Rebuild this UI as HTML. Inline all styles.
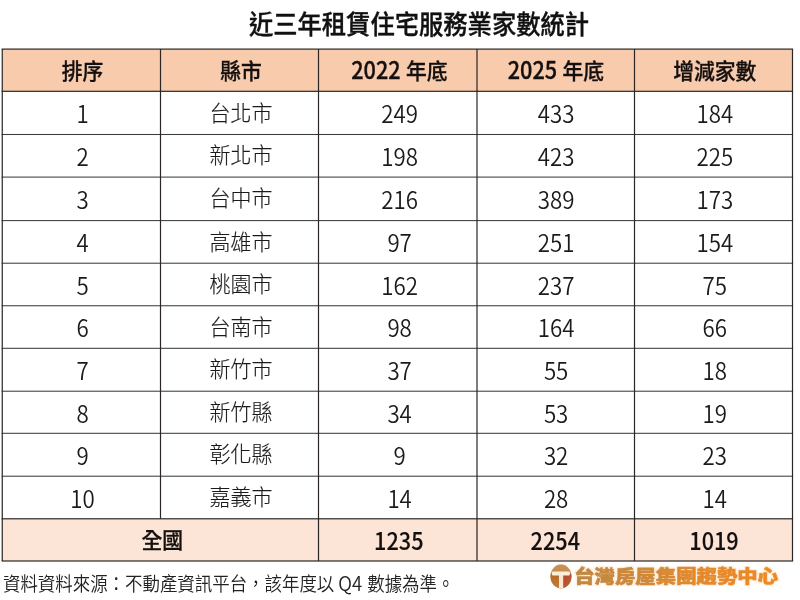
<!DOCTYPE html>
<html lang="zh-Hant">
<head>
<meta charset="utf-8">
<title>近三年租賃住宅服務業家數統計</title>
<style>
html,body{margin:0;padding:0;}
body{width:800px;height:600px;position:relative;overflow:hidden;background:#fff;color:#111;
 font-family:"Noto Sans CJK TC","Noto Sans CJK JP","Liberation Sans",sans-serif;}
.abs{position:absolute;}
.cell{position:absolute;z-index:1;display:flex;align-items:center;justify-content:center;white-space:pre;}
.cell span{display:inline-block;transform:scaleY(1.08);transform-origin:50% 50%;}
.h{font-weight:500;-webkit-text-stroke:0.3px #141010;font-size:20.8px;color:#141010;}
.b{font-weight:300;-webkit-text-stroke:0.15px #1a1a1a;font-size:21.0px;color:#1a1a1a;}
.t{font-weight:500;-webkit-text-stroke:0.3px #141010;font-size:20.8px;color:#141010;}
.cell span.c{transform:scaleY(1.05);position:relative;top:-1px;}
.cell span.d{transform:scaleY(1.07);position:relative;top:-0.6px;}
.b span.c{transform:scaleY(1.05);top:-1.4px;}
.h span.c{top:-0.2px;}
.b span.d{font-size:22.3px;font-weight:350;-webkit-text-stroke:0;}
.h span.d,.t span.d{font-size:21.7px;transform:scaleY(1.14);top:-1.6px;left:-0.5px;}
.t span.d{top:-0.7px;left:-0.8px;-webkit-text-stroke:0.1px #141010;}
.title{position:absolute;left:19px;width:800px;top:-0.7px;height:48px;text-align:center;font-weight:500;-webkit-text-stroke:0.35px #111;font-size:24.3px;line-height:48px;color:#111;white-space:nowrap;}
.title span{display:inline-block;transform:scaleY(1.08);}
.foot{position:absolute;left:3px;top:567.3px;height:30px;line-height:30px;font-size:17.46px;font-weight:350;color:#222;white-space:pre;}
.foot>span{display:inline-block;transform:scaleY(1.08);}
.foot .q{font-size:18.6px;margin-right:1.2px;}
</style>
</head>
<body>

<svg class="abs" style="left:0;top:0;z-index:0" width="800" height="600" viewBox="0 0 800 600">
<rect x="2.25" y="49.1" width="790.25" height="42.2" fill="#f8cbad"/>
<rect x="2.25" y="518.8" width="790.25" height="42.2" fill="#fce4d6"/>
<rect x="1.65" y="48.5" width="791.45" height="1.2" fill="#2b2624"/>
<rect x="1.65" y="90.7" width="791.45" height="1.2" fill="#2b2624"/>
<rect x="1.65" y="133.97" width="791.45" height="1.05" fill="#3c3c3c"/>
<rect x="1.65" y="176.57" width="791.45" height="1.05" fill="#3c3c3c"/>
<rect x="1.65" y="220.07" width="791.45" height="1.05" fill="#3c3c3c"/>
<rect x="1.65" y="262.68" width="791.45" height="1.05" fill="#3c3c3c"/>
<rect x="1.65" y="305.23" width="791.45" height="1.05" fill="#3c3c3c"/>
<rect x="1.65" y="347.78" width="791.45" height="1.05" fill="#3c3c3c"/>
<rect x="1.65" y="390.68" width="791.45" height="1.05" fill="#3c3c3c"/>
<rect x="1.65" y="432.78" width="791.45" height="1.05" fill="#3c3c3c"/>
<rect x="1.65" y="475.68" width="791.45" height="1.05" fill="#3c3c3c"/>
<rect x="1.65" y="518.2" width="791.45" height="1.2" fill="#2b2624"/>
<rect x="1.65" y="560.4" width="791.45" height="1.2" fill="#2b2624"/>
<rect x="1.65" y="49.1" width="1.2" height="511.9" fill="#2b2624"/>
<rect x="159.9" y="49.1" width="1.2" height="469.7" fill="#2b2624"/>
<rect x="317.9" y="49.1" width="1.2" height="511.9" fill="#2b2624"/>
<rect x="476.4" y="49.1" width="1.2" height="511.9" fill="#2b2624"/>
<rect x="633.9" y="49.1" width="1.2" height="511.9" fill="#2b2624"/>
<rect x="791.9" y="49.1" width="1.2" height="511.9" fill="#2b2624"/>
</svg>
<div class="title"><span>近三年租賃住宅服務業家數統計</span></div>
<div class="cell h" style="left:3.5px;top:49.1px;width:158px;height:42.2px"><span class="c">排序</span></div>
<div class="cell h" style="left:162px;top:49.1px;width:158px;height:42.2px"><span class="c">縣市</span></div>
<div class="cell h" style="left:320.5px;top:49.1px;width:158.25px;height:42.2px"><span class="d">2022</span><span class="c"> 年底</span></div>
<div class="cell h" style="left:477.25px;top:49.1px;width:157.75px;height:42.2px"><span class="d">2025</span><span class="c"> 年底</span></div>
<div class="cell h" style="left:635.8px;top:49.1px;width:158px;height:42.2px"><span class="c">增減家數</span></div>
<div class="cell b" style="left:3.5px;top:91.3px;width:158px;height:43.2px"><span class="d">1</span></div>
<div class="cell b" style="left:162px;top:91.3px;width:158px;height:43.2px"><span class="c">台北市</span></div>
<div class="cell b" style="left:320.5px;top:91.3px;width:158.25px;height:43.2px"><span class="d">249</span></div>
<div class="cell b" style="left:477.25px;top:91.3px;width:157.75px;height:43.2px"><span class="d">433</span></div>
<div class="cell b" style="left:635.8px;top:91.3px;width:158px;height:43.2px"><span class="d">184</span></div>
<div class="cell b" style="left:3.5px;top:134.5px;width:158px;height:42.6px"><span class="d">2</span></div>
<div class="cell b" style="left:162px;top:134.5px;width:158px;height:42.6px"><span class="c">新北市</span></div>
<div class="cell b" style="left:320.5px;top:134.5px;width:158.25px;height:42.6px"><span class="d">198</span></div>
<div class="cell b" style="left:477.25px;top:134.5px;width:157.75px;height:42.6px"><span class="d">423</span></div>
<div class="cell b" style="left:635.8px;top:134.5px;width:158px;height:42.6px"><span class="d">225</span></div>
<div class="cell b" style="left:3.5px;top:177.1px;width:158px;height:43.5px"><span class="d">3</span></div>
<div class="cell b" style="left:162px;top:177.1px;width:158px;height:43.5px"><span class="c">台中市</span></div>
<div class="cell b" style="left:320.5px;top:177.1px;width:158.25px;height:43.5px"><span class="d">216</span></div>
<div class="cell b" style="left:477.25px;top:177.1px;width:157.75px;height:43.5px"><span class="d">389</span></div>
<div class="cell b" style="left:635.8px;top:177.1px;width:158px;height:43.5px"><span class="d">173</span></div>
<div class="cell b" style="left:3.5px;top:220.6px;width:158px;height:42.6px"><span class="d">4</span></div>
<div class="cell b" style="left:162px;top:220.6px;width:158px;height:42.6px"><span class="c">高雄市</span></div>
<div class="cell b" style="left:320.5px;top:220.6px;width:158.25px;height:42.6px"><span class="d">97</span></div>
<div class="cell b" style="left:477.25px;top:220.6px;width:157.75px;height:42.6px"><span class="d">251</span></div>
<div class="cell b" style="left:635.8px;top:220.6px;width:158px;height:42.6px"><span class="d">154</span></div>
<div class="cell b" style="left:3.5px;top:263.2px;width:158px;height:42.55px"><span class="d">5</span></div>
<div class="cell b" style="left:162px;top:263.2px;width:158px;height:42.55px"><span class="c">桃園市</span></div>
<div class="cell b" style="left:320.5px;top:263.2px;width:158.25px;height:42.55px"><span class="d">162</span></div>
<div class="cell b" style="left:477.25px;top:263.2px;width:157.75px;height:42.55px"><span class="d">237</span></div>
<div class="cell b" style="left:635.8px;top:263.2px;width:158px;height:42.55px"><span class="d">75</span></div>
<div class="cell b" style="left:3.5px;top:305.75px;width:158px;height:42.55px"><span class="d">6</span></div>
<div class="cell b" style="left:162px;top:305.75px;width:158px;height:42.55px"><span class="c">台南市</span></div>
<div class="cell b" style="left:320.5px;top:305.75px;width:158.25px;height:42.55px"><span class="d">98</span></div>
<div class="cell b" style="left:477.25px;top:305.75px;width:157.75px;height:42.55px"><span class="d">164</span></div>
<div class="cell b" style="left:635.8px;top:305.75px;width:158px;height:42.55px"><span class="d">66</span></div>
<div class="cell b" style="left:3.5px;top:348.3px;width:158px;height:42.9px"><span class="d">7</span></div>
<div class="cell b" style="left:162px;top:348.3px;width:158px;height:42.9px"><span class="c">新竹市</span></div>
<div class="cell b" style="left:320.5px;top:348.3px;width:158.25px;height:42.9px"><span class="d">37</span></div>
<div class="cell b" style="left:477.25px;top:348.3px;width:157.75px;height:42.9px"><span class="d">55</span></div>
<div class="cell b" style="left:635.8px;top:348.3px;width:158px;height:42.9px"><span class="d">18</span></div>
<div class="cell b" style="left:3.5px;top:391.2px;width:158px;height:42.1px"><span class="d">8</span></div>
<div class="cell b" style="left:162px;top:391.2px;width:158px;height:42.1px"><span class="c">新竹縣</span></div>
<div class="cell b" style="left:320.5px;top:391.2px;width:158.25px;height:42.1px"><span class="d">34</span></div>
<div class="cell b" style="left:477.25px;top:391.2px;width:157.75px;height:42.1px"><span class="d">53</span></div>
<div class="cell b" style="left:635.8px;top:391.2px;width:158px;height:42.1px"><span class="d">19</span></div>
<div class="cell b" style="left:3.5px;top:433.3px;width:158px;height:42.9px"><span class="d">9</span></div>
<div class="cell b" style="left:162px;top:433.3px;width:158px;height:42.9px"><span class="c">彰化縣</span></div>
<div class="cell b" style="left:320.5px;top:433.3px;width:158.25px;height:42.9px"><span class="d">9</span></div>
<div class="cell b" style="left:477.25px;top:433.3px;width:157.75px;height:42.9px"><span class="d">32</span></div>
<div class="cell b" style="left:635.8px;top:433.3px;width:158px;height:42.9px"><span class="d">23</span></div>
<div class="cell b" style="left:3.5px;top:476.2px;width:158px;height:42.6px"><span class="d">10</span></div>
<div class="cell b" style="left:162px;top:476.2px;width:158px;height:42.6px"><span class="c">嘉義市</span></div>
<div class="cell b" style="left:320.5px;top:476.2px;width:158.25px;height:42.6px"><span class="d">14</span></div>
<div class="cell b" style="left:477.25px;top:476.2px;width:157.75px;height:42.6px"><span class="d">28</span></div>
<div class="cell b" style="left:635.8px;top:476.2px;width:158px;height:42.6px"><span class="d">14</span></div>
<div class="cell t" style="left:4.3px;top:518.8px;width:316px;height:42.2px"><span class="c">全國</span></div>
<div class="cell t" style="left:320.5px;top:518.8px;width:158.25px;height:42.2px"><span class="d">1235</span></div>
<div class="cell t" style="left:477.25px;top:518.8px;width:157.75px;height:42.2px"><span class="d">2254</span></div>
<div class="cell t" style="left:635.8px;top:518.8px;width:158px;height:42.2px"><span class="d">1019</span></div>
<div class="foot"><span>資料資料來源：不動產資訊平台，該年度以 <span class="q">Q4</span> 數據為準。</span></div>
<svg class="abs" style="left:549px;top:563px" width="25" height="27" viewBox="0 0 25 27">
<defs>
<clipPath id="cc"><ellipse cx="12" cy="13.4" rx="10.4" ry="11.8"/></clipPath>
<linearGradient id="gt" x1="0" y1="0" x2="0" y2="1"><stop offset="0" stop-color="#c99258"/><stop offset="1" stop-color="#c08040"/></linearGradient>
<linearGradient id="gl" x1="0" y1="0" x2="0" y2="1"><stop offset="0" stop-color="#b4692a"/><stop offset="1" stop-color="#c0803c"/></linearGradient>
<linearGradient id="gr" x1="0" y1="0" x2="1" y2="1"><stop offset="0" stop-color="#b5452c"/><stop offset="1" stop-color="#b8663a"/></linearGradient>
<filter id="bl" x="-10%" y="-10%" width="120%" height="120%"><feGaussianBlur stdDeviation="0.45"/></filter>
</defs>
<g filter="url(#bl)">
<ellipse cx="12" cy="13.4" rx="10.9" ry="12.3" fill="#f3d9b4" opacity="0.7"/>
<g clip-path="url(#cc)">
<rect x="0" y="0" width="25" height="27" fill="url(#gt)"/>
<rect x="0" y="11" width="12.1" height="16" fill="url(#gl)"/>
<rect x="12.1" y="11" width="13" height="16" fill="url(#gr)"/>
<rect x="3" y="8.6" width="17.8" height="4" rx="1" fill="#fdeedb"/>
<rect x="10" y="11.5" width="4.2" height="16" fill="#fce6d2"/>
</g>
</g>
</svg>
<svg class="abs" style="left:566px;top:558px" width="226" height="38" viewBox="0 0 226 38">
<defs>
<linearGradient id="tg" gradientUnits="userSpaceOnUse" x1="8" y1="0" x2="212" y2="0"><stop offset="0" stop-color="#c2873f"/><stop offset="0.3" stop-color="#cf893a"/><stop offset="0.55" stop-color="#e3892b"/><stop offset="1" stop-color="#ef8a20"/></linearGradient>
<filter id="glow" x="-5%" y="-40%" width="110%" height="180%">
<feMorphology in="SourceAlpha" operator="dilate" radius="0.9" result="d"/>
<feGaussianBlur in="d" stdDeviation="0.9" result="b"/>
<feFlood flood-color="#fadcae" flood-opacity="0.5"/>
<feComposite in2="b" operator="in" result="g"/>
<feGaussianBlur in="SourceGraphic" stdDeviation="0.3" result="s"/>
<feMerge><feMergeNode in="g"/><feMergeNode in="s"/></feMerge>
</filter>
</defs>
<g font-family="'Noto Sans CJK TC','Noto Sans CJK JP',sans-serif" font-weight="900" font-size="20.4" transform="translate(8.2,24.9) scale(1,0.88)" filter="url(#glow)">
<text x="0" y="0" fill="url(#tg)" stroke="url(#tg)" stroke-width="0.7" stroke-linejoin="round">台灣房屋集團趨勢中心</text>
</g>
</svg>
</body>
</html>
